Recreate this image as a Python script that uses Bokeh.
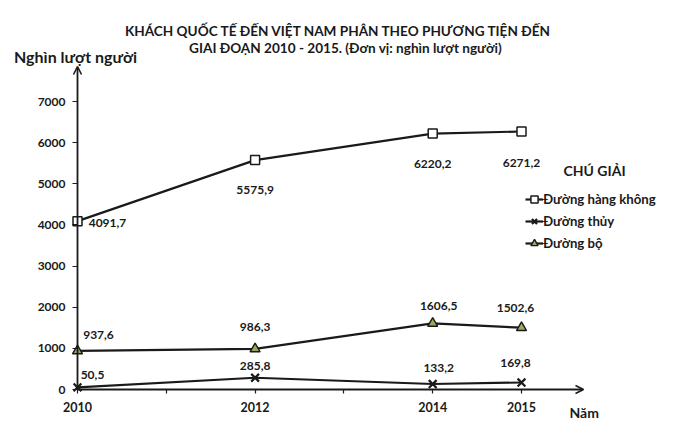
from bokeh.plotting import figure
from bokeh.models import (LinearAxis, FixedTicker, Arrow, OpenHead, Label, Legend,
                          LegendItem, ColumnDataSource, Range1d)
from bokeh.core.properties import value
from bokeh.embed import file_html
from bokeh.resources import INLINE

# ---------------- data ----------------
years = [2010, 2012, 2014, 2015]
air = [4091.7, 5575.9, 6220.2, 6271.2]
water = [50.5, 285.8, 133.2, 169.8]
road = [937.6, 986.3, 1606.5, 1502.6]
air_labels = ["4091,7", "5575,9", "6220,2", "6271,2"]
water_labels = ["50,5", "285,8", "133,2", "169,8"]
road_labels = ["937,6", "986,3", "1606,5", "1502,6"]
series_names = ["Đường hàng không", "Đường thủy", "Đường bộ"]
y_ticks = [0, 1000, 2000, 3000, 4000, 5000, 6000, 7000]
x_major = [2010, 2012, 2014, 2015]
x_minor = [2011, 2013]
title_lines = ["KHÁCH QUỐC TẾ ĐẾN VIỆT NAM PHÂN THEO PHƯƠNG TIỆN ĐẾN",
               "GIAI ĐOẠN 2010 - 2015. (Đơn vị: nghìn lượt người)"]
y_title = "Nghìn lượt người"
x_title = "Năm"
legend_title = "CHÚ GIẢI"

# ---------------- layout (pixels) ----------------
W, H = 695, 434
PX_PER_YEAR = 88.8
X0_PX = 77            # pixel of first year
PX_PER_UNIT = 288 / 7000
Y0_PX = 389           # pixel (from top) of value 0
XS = years[0] - X0_PX / PX_PER_YEAR
XE = XS + W / PX_PER_YEAR
YS = -(H - Y0_PX) / PX_PER_UNIT
YE = YS + H / PX_PER_UNIT
X_ARROW = years[0] + (583 - X0_PX) / PX_PER_YEAR
Y_ARROW = (Y0_PX - 66) / PX_PER_UNIT

FONT = "Lato"
INK = "#1a1a1a"

# label offsets in pixels (style)
air_dx, air_dy = [30, 0, 0, 0], [2, 30, 30, 32]
road_dx, road_dy = [21, 0, 6, -6], [-16, -22, -17, -20]
water_dx, water_dy = [15, 0, 6, -6], [-12, -12, -16, -20]

p = figure(width=W, height=H, x_range=Range1d(XS, XE), y_range=Range1d(YS, YE),
           x_axis_type=None, y_axis_type=None, min_border=0,
           toolbar_location=None, output_backend="svg",
           outline_line_color=None, background_fill_color="white",
           border_fill_color="white")
p.xgrid.visible = False
p.ygrid.visible = False

# axes (ticks + labels)
yaxis = LinearAxis(fixed_location=years[0], ticker=FixedTicker(ticks=y_ticks),
                   axis_line_color=None, major_tick_out=5, major_tick_in=0,
                   major_tick_line_color=INK, major_tick_line_width=1.2,
                   minor_tick_line_color=None, major_label_standoff=7,
                   major_label_text_font=FONT, major_label_text_font_style="bold",
                   major_label_text_font_size="12px", major_label_text_color=INK)
p.add_layout(yaxis, "left")
xaxis = LinearAxis(fixed_location=0, ticker=FixedTicker(ticks=x_major, minor_ticks=x_minor),
                   axis_line_color=None, major_tick_out=4, major_tick_in=0,
                   minor_tick_out=4, minor_tick_in=0,
                   major_tick_line_color=INK, minor_tick_line_color=INK,
                   major_tick_line_width=1.2, minor_tick_line_width=1.2,
                   major_label_standoff=8,
                   major_label_text_font=FONT, major_label_text_font_style="bold",
                   major_label_text_font_size="12.5px", major_label_text_color=INK)
p.add_layout(xaxis, "below")

# axis lines with arrow heads
p.add_layout(Arrow(x_start=years[0], y_start=0, x_end=years[0], y_end=Y_ARROW,
                   line_color=INK, line_width=1.8,
                   end=OpenHead(size=8, line_width=1.6, line_color=INK)))
p.add_layout(Arrow(x_start=years[0], y_start=0, x_end=X_ARROW, y_end=0,
                   line_color=INK, line_width=1.8,
                   end=OpenHead(size=8, line_width=1.6, line_color=INK)))

# series
air_line = p.line(years, air, line_color=INK, line_width=2.2)
air_pts = p.scatter(years, air, marker="square", size=9, fill_color="white",
                    line_color=INK, line_width=1.5)
water_line = p.line(years, water, line_color=INK, line_width=2.2)
water_pts = p.scatter(years, water, marker="x", size=11, line_color=INK, line_width=2.2)
road_line = p.line(years, road, line_color=INK, line_width=2.2)
road_pts = p.scatter(years, road, marker="triangle", size=10, fill_color="#9fa75e",
                     line_color=INK, line_width=1.4)

# data labels
for vals, labs, dx, dy in [(air, air_labels, air_dx, air_dy),
                           (road, road_labels, road_dx, road_dy),
                           (water, water_labels, water_dx, water_dy)]:
    src = ColumnDataSource(dict(x=years, y=vals, t=labs, dx=dx, dy=dy))
    p.text(x="x", y="y", text="t", x_offset="dx", y_offset="dy", source=src,
           text_align="center", text_baseline="middle",
           text_font=value(FONT), text_font_style="bold",
           text_font_size="12px", text_color=INK)

# legend
legend = Legend(items=[LegendItem(label=series_names[0], renderers=[air_line, air_pts]),
                       LegendItem(label=series_names[1], renderers=[water_line, water_pts]),
                       LegendItem(label=series_names[2], renderers=[road_line, road_pts])],
                location=(525, 181), glyph_width=18, glyph_height=20, label_height=20,
                spacing=2, padding=0, margin=0, label_standoff=0,
                border_line_color=None, background_fill_alpha=0,
                label_text_font=FONT, label_text_font_style="bold",
                label_text_font_size="13.2px", label_text_color=INK)
p.add_layout(legend)

def add_label(text, x, y, size, align="center"):
    p.add_layout(Label(x=x, y=H - y, x_units="screen", y_units="screen", text=text,
                       text_align=align, text_baseline="middle",
                       text_font=FONT, text_font_style="bold",
                       text_font_size=size, text_color=INK))

add_label(title_lines[0], 338, 30, "13.6px")
add_label(title_lines[1], 345, 47, "13.6px")
add_label(y_title, 75, 56, "16px")
add_label(x_title, 569, 412, "14px", "left")
add_label(legend_title, 563, 170, "14px", "left")

open("out.html", "w").write(file_html(p, INLINE))
